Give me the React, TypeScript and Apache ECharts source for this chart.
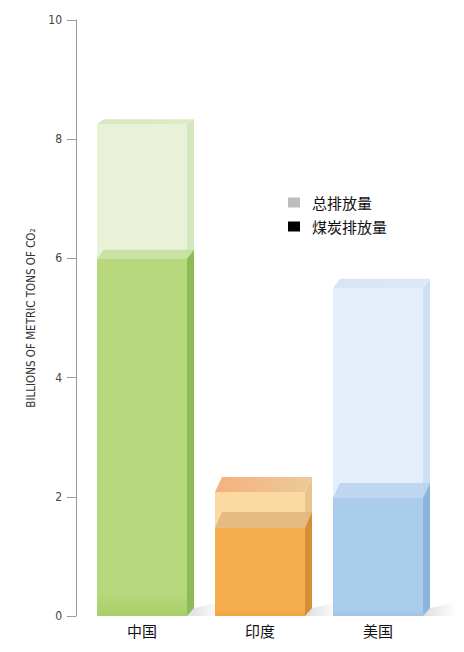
import { useEffect, useRef } from "react";
import * as echarts from "echarts";

const CATEGORIES = ["中国", "印度", "美国"];
const TOTAL = [8.25, 2.08, 5.5];
const COAL = [6.0, 1.48, 1.98];
const SERIES_NAMES = ["总排放量", "煤炭排放量"];
const Y_TICKS = { min: 0, max: 10, interval: 2 };

// per-country palette: front / side / top
const COAL_COLORS = [
  { front: ["#b8d87e", "#a8cf68"], side: "#8dbb58", top: "#c5df9c" },
  { front: ["#f6ad4e", "#f2a344"], side: "#d68d3a", top: "#e3b67d" },
  { front: ["#abcdec", "#a2c5e6"], side: "#8fb4da", top: "#bad4ee" },
];
const TOTAL_COLORS = [
  { front: "#e9f2d9", side: "#d4e6bb", top: ["#d6e9bd", "#dcebc6"] },
  { front: "#fad9a2", side: "#e9c28c", top: ["#f5b17d", "#ecca9b"] },
  { front: "#e4eefa", side: "#cddff3", top: ["#d6e5f6", "#dce8f7"] },
];

const HALF_W = 45;
const DEPTH_X = 7;

const topDepth = (y: number) => 5 + 0.027 * (y - 124);

const makeRender =
  (kind: "total" | "coal") => (params: any, api: any) => {
    const i = params.dataIndex;
    const top = api.coord([api.value(0), api.value(1)]);
    const base = api.coord([api.value(0), 0]);
    const cx = top[0];
    const x0 = cx - HALF_W;
    const x1 = cx + HALF_W;
    const yt = top[1];
    const yb = base[1];
    const dy = topDepth(yt);
    const children: any[] = [];

    if (kind === "total") {
      const c = TOTAL_COLORS[i];
      children.push({
        type: "polygon",
        shape: {
          points: [
            [x1, yb],
            [x1 + DEPTH_X, yb - 8],
            [x1 + 34, yb - 14],
            [x1 + 30, yb],
          ],
        },
        style: {
          fill: new echarts.graphic.LinearGradient(0, 0, 1, 0, [
            { offset: 0, color: "rgba(0,0,0,0.13)" },
            { offset: 1, color: "rgba(0,0,0,0)" },
          ]),
        },
      });
      children.push({
        type: "rect",
        shape: { x: x0, y: yt, width: x1 - x0, height: yb - yt },
        style: { fill: c.front },
      });
      children.push({
        type: "polygon",
        shape: {
          points: [
            [x1, yt],
            [x1 + DEPTH_X, yt - dy],
            [x1 + DEPTH_X, yb - 8],
            [x1, yb],
          ],
        },
        style: { fill: c.side },
      });
      children.push({
        type: "polygon",
        shape: {
          points: [
            [x0, yt],
            [x1, yt],
            [x1 + DEPTH_X, yt - dy],
            [x0 + DEPTH_X, yt - dy],
          ],
        },
        style: {
          fill: new echarts.graphic.LinearGradient(0, 0, 1, 0, [
            { offset: 0, color: c.top[0] },
            { offset: 1, color: c.top[1] },
          ]),
        },
      });
    } else {
      const c = COAL_COLORS[i];
      children.push({
        type: "rect",
        shape: { x: x0, y: yt, width: x1 - x0, height: yb - yt },
        style: {
          fill: new echarts.graphic.LinearGradient(0, 0, 0, 1, [
            { offset: 0, color: c.front[0] },
            { offset: 0.93, color: c.front[0] },
            { offset: 1, color: c.front[1] },
          ]),
        },
      });
      children.push({
        type: "polygon",
        shape: {
          points: [
            [x1, yt],
            [x1 + DEPTH_X, yt - dy],
            [x1 + DEPTH_X, yb - 8],
            [x1, yb],
          ],
        },
        style: { fill: c.side },
      });
      children.push({
        type: "polygon",
        shape: {
          points: [
            [x0, yt],
            [x1, yt],
            [x1 + DEPTH_X, yt - dy],
            [x0 + DEPTH_X, yt - dy],
          ],
        },
        style: { fill: c.top, opacity: 0.9 },
      });
    }
    return { type: "group", children };
  };

export default function App() {
  const ref = useRef<HTMLDivElement | null>(null);

  useEffect(() => {
    if (!ref.current) return;
    const chart = echarts.init(ref.current, undefined, { renderer: "svg" });

    chart.setOption({
      animation: false,
      backgroundColor: "#ffffff",
      grid: { left: 83, right: 27, top: 20, bottom: 36 },
      legend: {
        orient: "vertical",
        left: 288,
        top: 195,
        padding: 0,
        icon: "rect",
        itemWidth: 12,
        itemHeight: 10,
        itemGap: 9,
        data: [
          { name: SERIES_NAMES[0], itemStyle: { color: "#bdbdbd" } },
          { name: SERIES_NAMES[1], itemStyle: { color: "#000000" } },
        ],
        textStyle: {
          fontSize: 15,
          color: "#111",
          fontFamily: "Noto Sans CJK SC",
          padding: [0, 0, 0, 7],
        },
      },
      xAxis: {
        type: "category",
        data: CATEGORIES,
        axisLine: { show: false },
        axisTick: { show: false },
        axisLabel: {
          fontSize: 15,
          color: "#111",
          margin: 7,
          fontFamily: "Noto Sans CJK SC",
        },
      },
      yAxis: {
        type: "value",
        min: Y_TICKS.min,
        max: Y_TICKS.max,
        interval: Y_TICKS.interval,
        offset: 7,
        name: "BILLIONS OF METRIC TONS OF CO₂",
        nameLocation: "middle",
        nameGap: 32,
        nameTextStyle: {
          fontSize: 11.5,
          color: "#333",
          fontFamily: "Liberation Sans Narrow, DejaVu Sans Condensed, sans-serif",
        },
        axisLine: { show: true, lineStyle: { color: "#9a9a9a", width: 1 } },
        axisTick: {
          show: true,
          length: 9,
          lineStyle: { color: "#9a9a9a" },
        },
        axisLabel: {
          fontSize: 12,
          color: "#444",
          margin: 14,
          fontFamily: "Liberation Sans Narrow, DejaVu Sans Condensed, sans-serif",
        },
        splitLine: { show: false },
      },
      series: [
        {
          name: SERIES_NAMES[0],
          type: "custom",
          renderItem: makeRender("total"),
          itemStyle: { color: "#bdbdbd" },
          encode: { x: 0, y: 1 },
          data: CATEGORIES.map((_, i) => [i, TOTAL[i]]),
        },
        {
          name: SERIES_NAMES[1],
          type: "custom",
          renderItem: makeRender("coal"),
          itemStyle: { color: "#000000" },
          encode: { x: 0, y: 1 },
          data: CATEGORIES.map((_, i) => [i, COAL[i]]),
        },
      ],
    });

    return () => chart.dispose();
  }, []);

  return (
    <div
      ref={ref}
      style={{ position: "absolute", left: 0, top: 0, width: 464, height: 652 }}
    />
  );
}
